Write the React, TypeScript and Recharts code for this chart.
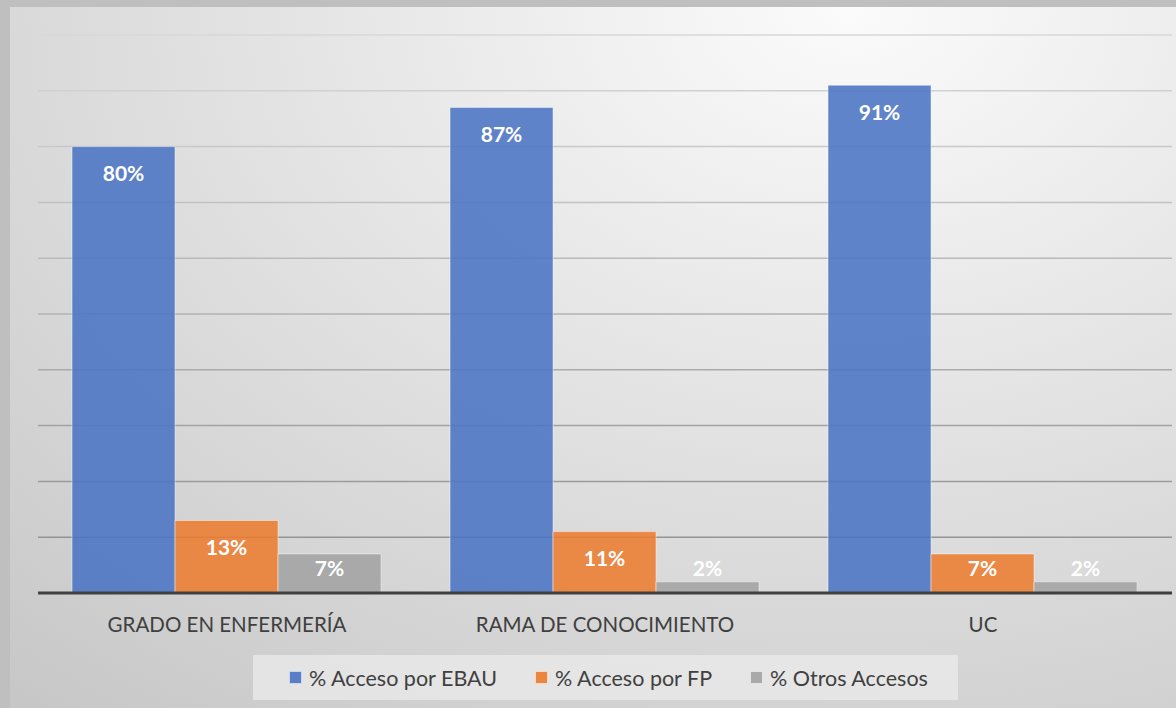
import React from "react";
import { BarChart, Bar, XAxis, YAxis, CartesianGrid, Legend, LabelList } from "recharts";

const categories = ["GRADO EN ENFERMERÍA", "RAMA DE CONOCIMIENTO", "UC"];
const ebau = [80, 87, 91];
const fp = [13, 11, 7];
const otros = [7, 2, 2];
const seriesNames = ["% Acceso por EBAU", "% Acceso por FP", "% Otros Accesos"];
const yTicks = [0, 10, 20, 30, 40, 50, 60, 70, 80, 90, 100];

const colors = ["#4a74c4", "#ec7c30", "#a3a3a3"];
const keys = ["ebau", "fp", "otros"];

const data = categories.map((c, i) => ({ name: c, ebau: ebau[i], fp: fp[i], otros: otros[i] }));

const FONT = "Lato, 'Open Sans', sans-serif";

const renderLabel = (props: any) => {
  const { x, y, width, height, value } = props;
  const cy = Math.min(y + 26, y + height - 26);
  return (
    <text
      x={x + width / 2}
      y={cy}
      textAnchor="middle"
      dominantBaseline="central"
      fill="#ffffff"
      fontFamily={FONT}
      fontWeight={700}
      fontSize={21}
    >
      {value}%
    </text>
  );
};

const LegendContent = () => (
  <div
    style={{
      width: 705,
      height: 45,
      background: "rgba(235,235,235,0.75)",
      display: "flex",
      alignItems: "center",
      justifyContent: "center",
      paddingLeft: 6,
      fontFamily: FONT,
      fontSize: 21.5,
      color: "#404040",
      boxSizing: "border-box",
    }}
  >
    {seriesNames.map((n, i) => (
      <div key={n} style={{ display: "flex", alignItems: "center", marginRight: i < 2 ? 38 : 0 }}>
        <span
          style={{
            display: "inline-block",
            width: 11,
            height: 11,
            background: colors[i],
            opacity: 0.9,
            border: "1px solid rgba(255,255,255,0.7)",
            marginRight: 7,
          }}
        />
        <span>{n}</span>
      </div>
    ))}
  </div>
);

export default function App() {
  return (
    <div
      style={{
        position: "fixed",
        left: 0,
        top: 0,
        width: 1176,
        height: 708,
        background: "#bfbfbf",
        overflow: "hidden",
      }}
    >
      <div
        style={{
          position: "absolute",
          left: 10,
          top: 7,
          width: 1166,
          height: 701,
          background:
            "radial-gradient(ellipse 110% 130% at 72% 0%, #fbfbfb 0%, #e6e6e6 40%, #cfcfcf 85%, #c7c7c7 100%)",
        }}
      />
      <div style={{ position: "absolute", left: 0, top: 0 }}>
        <BarChart
          width={1176}
          height={708}
          data={data}
          margin={{ top: 35, right: 4, left: 38, bottom: 10 }}
          barCategoryGap="9%"
          barGap={0}
        >
          <defs>
            <linearGradient id="gridGrad" gradientUnits="userSpaceOnUse" x1="0" y1="35" x2="0" y2="593">
              <stop offset="0%" stopColor="#d8d8d8" />
              <stop offset="100%" stopColor="#8c8c8c" />
            </linearGradient>
          </defs>
          <CartesianGrid vertical={false} stroke="url(#gridGrad)" strokeWidth={1.5} />
          <YAxis hide domain={[0, 100]} ticks={yTicks} />
          <XAxis
            dataKey="name"
            height={60}
            tickLine={false}
            axisLine={{ stroke: "#404040", strokeWidth: 3 }}
            tick={{ fill: "#404040", fontSize: 20.5, fontFamily: FONT }}
            dy={16}
          />
          <Legend
            verticalAlign="bottom"
            content={<LegendContent />}
            wrapperStyle={{ position: "absolute", left: 253, top: 655, width: 705, height: 45 }}
          />
          {keys.map((k, i) => (
            <Bar
              key={k}
              dataKey={k}
              name={seriesNames[i]}
              fill={colors[i]}
              fillOpacity={0.88}
              stroke="#ffffff"
              strokeOpacity={0.45}
              strokeWidth={1}
              isAnimationActive={false}
            >
              <LabelList dataKey={k} content={renderLabel} />
            </Bar>
          ))}
        </BarChart>
      </div>
    </div>
  );
}
